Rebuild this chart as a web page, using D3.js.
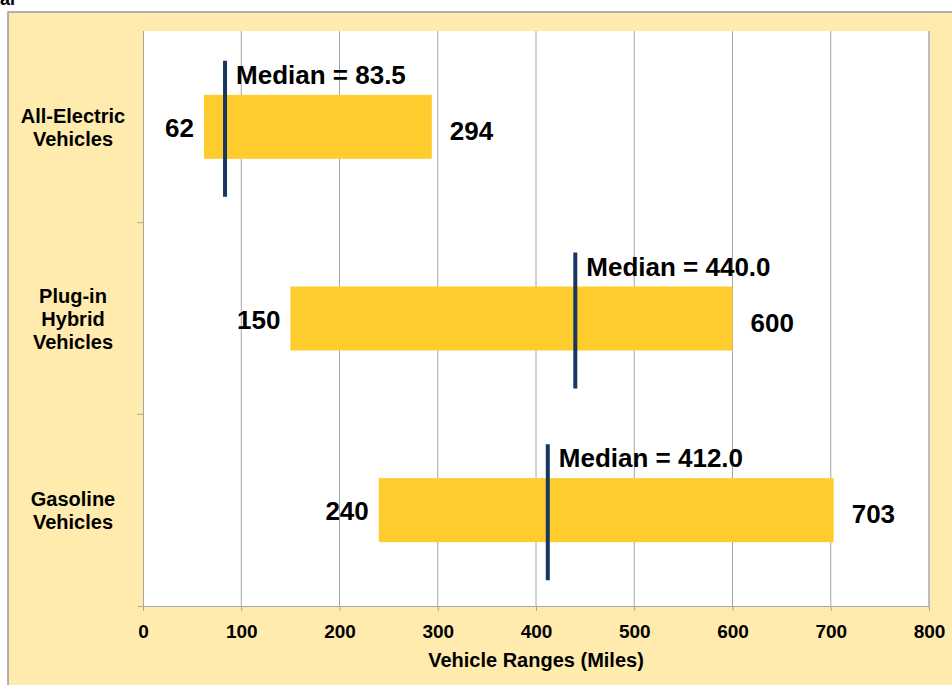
<!DOCTYPE html>
<html>
<head>
<meta charset="utf-8">
<script src="https://cdn.jsdelivr.net/npm/d3@7"></script>
<style>
  html, body { margin: 0; padding: 0; background: #ffffff; }
  svg { display: block; font-family: "Liberation Sans", Arial, sans-serif; }
</style>
</head>
<body>
<svg id="chart" width="952" height="685"></svg>
<script>
const categories = ["All-Electric Vehicles", "Plug-in Hybrid Vehicles", "Gasoline Vehicles"];
const categoryLines = [["All-Electric", "Vehicles"], ["Plug-in", "Hybrid", "Vehicles"], ["Gasoline", "Vehicles"]];
const minRange = [62, 150, 240];
const maxRange = [294, 600, 703];
const medians = [83.5, 440.0, 412.0];
const xTicks = [0, 100, 200, 300, 400, 500, 600, 700, 800];
const xTitle = "Vehicle Ranges (Miles)";

const svg = d3.select("#chart");
const plot = { left: 143, right: 929, top: 31, bottom: 606 };

// top-left cut-off fragment
svg.append("text").attr("x", 0).attr("y", 5).attr("font-size", 18).attr("font-weight", "bold").attr("fill", "#000").text("al");

// outer panel
svg.append("rect").attr("x", 8).attr("y", 12).attr("width", 960).attr("height", 700)
  .attr("fill", "#FFEBAD").attr("stroke", "#9a9a9a").attr("stroke-width", 1.5);

const x = d3.scaleLinear().domain([0, 800]).range([plot.left, plot.right]);
const y = d3.scaleBand().domain(categories).range([plot.top, plot.bottom]).padding(0);

// plot area
svg.append("rect").attr("x", plot.left).attr("y", plot.top)
  .attr("width", plot.right - plot.left).attr("height", plot.bottom - plot.top)
  .attr("fill", "#ffffff");

// gridlines
svg.append("g").selectAll("line").data(xTicks.slice(1)).join("line")
  .attr("x1", d => x(d)).attr("x2", d => x(d))
  .attr("y1", plot.top).attr("y2", plot.bottom)
  .attr("stroke", d => d === 800 ? "#bdbdbd" : "#a6a6a6").attr("stroke-width", d => d === 800 ? 2 : 1);

// x axis
const xAxis = d3.axisBottom(x).tickValues(xTicks).tickSize(5).tickPadding(14).tickFormat(d3.format("d"));
const gx = svg.append("g").attr("transform", `translate(0,${plot.bottom})`).call(xAxis);
gx.select(".domain").attr("stroke", "#a6a6a6").attr("d", `M${plot.left - 5},0.5H${plot.right}`);
gx.selectAll(".tick line").attr("stroke", "#a6a6a6");
gx.selectAll(".tick text").attr("font-size", 19).attr("font-weight", "bold").attr("fill", "#000")
  .attr("font-family", "Liberation Sans, Arial, sans-serif");

// y axis
const yAxis = d3.axisLeft(y).tickSize(0).tickFormat("");
const gy = svg.append("g").attr("transform", `translate(${plot.left},0)`).call(yAxis);
gy.select(".domain").attr("stroke", "#a6a6a6").attr("d", `M0.5,${plot.top}V${plot.bottom}`);
// y boundary ticks
svg.append("g").selectAll("line").data(categories.slice(1)).join("line")
  .attr("x1", plot.left - 6).attr("x2", plot.left)
  .attr("y1", d => y(d)).attr("y2", d => y(d))
  .attr("stroke", "#a6a6a6");

// category labels
categories.forEach((c, i) => {
  const cy = y(c) + y.bandwidth() / 2;
  const lines = categoryLines[i];
  const lh = 23;
  const t = svg.append("text").attr("text-anchor", "middle").attr("font-size", 20).attr("font-weight", "bold").attr("fill", "#000");
  lines.forEach((ln, j) => {
    t.append("tspan").attr("x", 73).attr("y", cy - 15 - (lines.length - 2) * lh / 2 + j * lh + 11).text(ln);
  });
});

const barH = 64;
categories.forEach((c, i) => {
  const cy = y(c) + y.bandwidth() / 2;
  svg.append("rect").attr("x", x(minRange[i])).attr("y", cy - barH / 2)
    .attr("width", x(maxRange[i]) - x(minRange[i])).attr("height", barH)
    .attr("fill", "#FFCC2E");
  svg.append("text").attr("x", x(minRange[i]) - 10).attr("y", cy + 10)
    .attr("text-anchor", "end").attr("font-size", 26).attr("font-weight", "bold").attr("fill", "#000")
    .text(minRange[i]);
  svg.append("text").attr("x", x(maxRange[i]) + 18).attr("y", cy + 13)
    .attr("text-anchor", "start").attr("font-size", 26).attr("font-weight", "bold").attr("fill", "#000")
    .text(maxRange[i]);
  svg.append("line").attr("x1", x(medians[i])).attr("x2", x(medians[i]))
    .attr("y1", cy - 66).attr("y2", cy + 70)
    .attr("stroke", "#17375E").attr("stroke-width", 4);
  svg.append("text").attr("x", x(medians[i]) + 11).attr("y", cy - 43)
    .attr("font-size", 26).attr("font-weight", "bold").attr("fill", "#000")
    .text("Median = " + d3.format(".1f")(medians[i]));
});

// axis title
svg.append("text").attr("x", 536).attr("y", 667).attr("text-anchor", "middle")
  .attr("font-size", 20).attr("font-weight", "bold").attr("fill", "#000").text(xTitle);
</script>
</body>
</html>
